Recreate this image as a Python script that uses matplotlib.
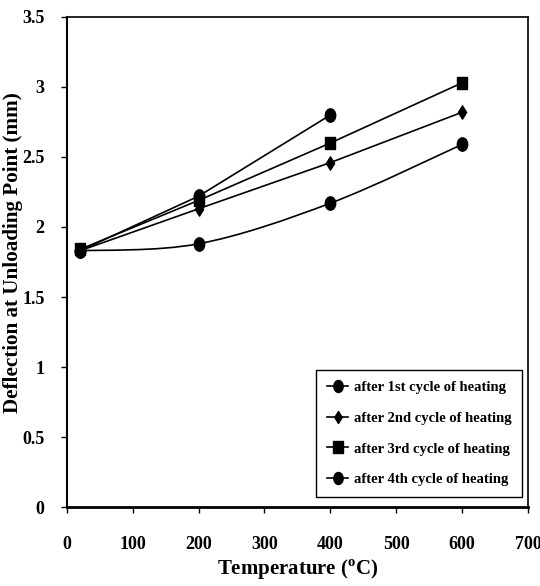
import matplotlib
matplotlib.use('Agg')
import matplotlib.pyplot as plt
from matplotlib.path import Path
from matplotlib.patches import PathPatch
from matplotlib.lines import Line2D
from matplotlib.transforms import Affine2D

plt.rcParams['font.family'] = ['Liberation Serif', 'DejaVu Serif']
plt.rcParams['font.weight'] = 'bold'
plt.rcParams['mathtext.fontset'] = 'custom'
plt.rcParams['mathtext.rm'] = 'Liberation Serif:bold'

# data
temp_1 = [20, 200, 400, 600]
defl_1 = [1.83, 1.88, 2.17, 2.59]
temp_2 = [20, 200, 400, 600]
defl_2 = [1.83, 2.13, 2.46, 2.82]
temp_3 = [20, 200, 400, 600]
defl_3 = [1.84, 2.19, 2.60, 3.03]
temp_4 = [20, 200, 400]
defl_4 = [1.83, 2.22, 2.80]

labels = ['after 1st cycle of heating', 'after 2nd cycle of heating',
          'after 3rd cycle of heating', 'after 4th cycle of heating']

# tall markers, like the stretched Excel ones
circle = Path.unit_circle().transformed(Affine2D().scale(0.78, 1.0))
square = Path([(-0.85, -1), (0.85, -1), (0.85, 1), (-0.85, 1), (-0.85, -1)],
              [Path.MOVETO, Path.LINETO, Path.LINETO, Path.LINETO, Path.CLOSEPOLY])
diamond = Path([(0, -1), (0.62, 0), (0, 1), (-0.62, 0), (0, -1)],
               [Path.MOVETO, Path.LINETO, Path.LINETO, Path.LINETO, Path.CLOSEPOLY])
markers = [circle, diamond, square, circle]
msizes = [9.6, 9.6, 8.8, 9.6]


def smooth_path(xs, ys):
    # Excel-style smoothed line: cubic bezier through the points
    pts = list(zip(xs, ys))
    verts = [pts[0]]
    codes = [Path.MOVETO]
    n = len(pts)
    for i in range(n - 1):
        p0 = pts[i - 1] if i > 0 else pts[i]
        p1 = pts[i]
        p2 = pts[i + 1]
        p3 = pts[i + 2] if i + 2 < n else pts[i + 1]
        c1 = (p1[0] + (p2[0] - p0[0]) / 6, p1[1] + (p2[1] - p0[1]) / 6)
        c2 = (p2[0] - (p3[0] - p1[0]) / 6, p2[1] - (p3[1] - p1[1]) / 6)
        verts += [c1, c2, p2]
        codes += [Path.CURVE4] * 3
    return Path(verts, codes)


fig = plt.figure(figsize=(5.4, 5.86), dpi=100)
ax = fig.add_axes([0.1235, 0.1348, 0.8545, 0.8362])

# 1st cycle: smoothed curve
ax.add_patch(PathPatch(smooth_path(temp_1, defl_1), fill=False, edgecolor='black', lw=1.2, zorder=2))
ax.plot(temp_1, defl_1, ls='none', marker=markers[0], ms=msizes[0], color='black', zorder=3)

for xs, ys, m, s in [(temp_2, defl_2, markers[1], msizes[1]),
                     (temp_3, defl_3, markers[2], msizes[2]),
                     (temp_4, defl_4, markers[3], msizes[3])]:
    ax.plot(xs, ys, color='black', lw=1.2, marker=m, ms=s, zorder=3)

ax.set_xlim(0, 700)
ax.set_ylim(0, 3.5)
ax.set_xticks(range(0, 701, 100))
ax.set_yticks([0, 0.5, 1, 1.5, 2, 2.5, 3, 3.5])
ax.set_yticklabels(['0', '0.5', '1', '1.5', '2', '2.5', '3', '3.5'])

for sp in ax.spines.values():
    sp.set_linewidth(1.2)
ax.spines['bottom'].set_linewidth(2)
ax.spines['left'].set_linewidth(1.5)

ax.tick_params(axis='x', direction='out', length=4, width=1, pad=17, labelsize=13)
ax.tick_params(axis='y', direction='out', length=4, width=1, pad=12, labelsize=13)

ax.set_xlabel(r'Temperature ($^{\rm o}$C)', fontsize=15, fontweight='bold', va='center')
ax.xaxis.set_label_coords(0.5, -0.128)
ax.set_ylabel('Deflection at Unloading Point (mm)', fontsize=15.2, fontweight='bold', va='center')
ax.yaxis.set_label_coords(-0.116, 0.52)

handles = [Line2D([], [], color='black', lw=1.2, marker=m, ms=s * 0.9) for m, s in zip(markers, msizes)]
leg = ax.legend(handles, labels, loc='lower right', bbox_to_anchor=(0.987, 0.02), borderaxespad=0,
                prop={'family': 'Liberation Serif', 'weight': 'bold', 'size': 10.5},
                frameon=True, fancybox=False, edgecolor='black', framealpha=1,
                handlelength=1.5, labelspacing=1.2, borderpad=0.75, handletextpad=0.35)
leg.get_frame().set_linewidth(1)

fig.savefig('out.png', dpi=100)
